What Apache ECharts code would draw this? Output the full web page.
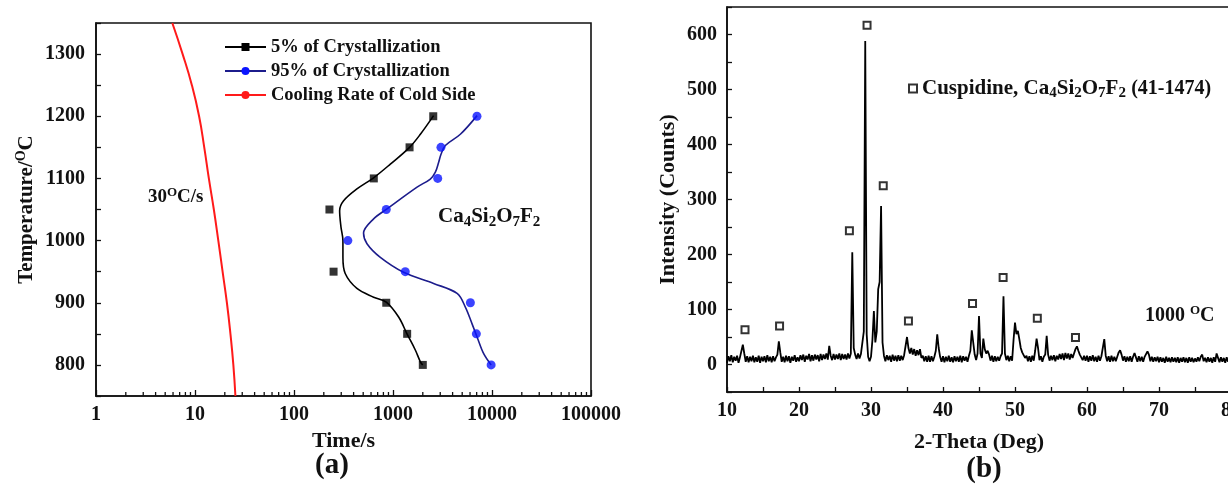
<!DOCTYPE html>
<html>
<head>
<meta charset="utf-8">
<script src="https://cdn.jsdelivr.net/npm/echarts@6/dist/echarts.min.js"></script>
<style>
html,body{margin:0;padding:0;background:#fff;}
#main{width:1228px;height:487px;}
</style>
</head>
<body>
<div id="main"></div>
<script>
// ---------- Panel (a): CCT data ----------
const crys5Time  = [2550, 1470, 640, 228, 251, 855, 1390, 2000];
const crys5Temp  = [1200, 1150, 1100, 1050, 950, 900, 850, 800];
const crys95Time = [7050, 3050, 2830, 855, 350, 1330, 6050, 6950, 9800];
const crys95Temp = [1200, 1150, 1100, 1050, 1000, 950, 900, 850, 800];
// fitted curves
const fit5Time  = [2570, 1890, 1470, 940, 637, 432, 317, 289, 298, 312, 312, 329, 432, 637, 855, 1140, 1385, 1680, 1890, 1995];
const fit5Temp  = [1201, 1171, 1150, 1123, 1101, 1083, 1064, 1048, 1022, 1000, 973, 947, 923, 909, 901, 877, 850, 824, 805, 800];
const fit95Time = [7066, 4790, 3380, 3055, 2893, 2679, 2383, 1750, 870, 637, 504, 546, 745, 1280, 2570, 4440, 5380, 6290, 7066, 8240, 9800];
const fit95Temp = [1201, 1171, 1153, 1139, 1126, 1110, 1099, 1086, 1051, 1035, 1012, 995, 973, 949, 931, 915, 893, 866, 845, 818, 800];
const coolTime = [5.9, 7.5, 9.3, 11.0, 12.4, 13.8, 15.5, 17.2, 19, 21, 22.8, 24.4, 25.6];
const coolTemp = [1350, 1300, 1250, 1200, 1150, 1100, 1050, 1000, 950, 900, 850, 800, 750];
const logMinorTicks = [2,3,4,5,6,7,8,9,20,30,40,50,60,70,80,90,200,300,400,500,600,700,800,900,
  2000,3000,4000,5000,6000,7000,8000,9000,20000,30000,40000,50000,60000,70000,80000,90000];
const xLabelsA = ['1','10','100','1000','10000','100000'];

// ---------- Panel (b): XRD pattern ----------
const scanStart = 10, scanStep = 0.2;
const xrdCounts = [
  3,15,6,17,4,14,7,16,3,13,          // 10.0-11.8
  14,36,20,5,15,4,14,6,16,4,         // 12.0-13.8
  13,5,16,3,14,6,15,4,17,6,          // 14.0-15.8
  14,4,15,6,13,18,42,22,5,14,        // 16.0-17.8
  4,16,6,15,3,14,7,17,5,13,          // 18.0-19.8
  6,17,8,18,5,16,9,19,6,17,          // 20.0-21.8
  7,18,9,17,6,19,8,18,10,20,         // 22.0-23.8
  9,34,16,8,19,9,18,10,20,8,         // 24.0-25.8
  19,10,18,9,20,11,20,204,30,18,     // 26.0-27.8
  10,20,11,19,22,60,588,55,14,6,     // 28.0-29.8
  14,45,97,40,60,137,150,288,40,16,  // 30.0-31.8
  6,17,8,16,5,18,7,16,6,17,          // 32.0-33.8
  7,16,8,17,20,50,30,20,30,18,       // 34.0-35.8
  28,16,26,17,28,12,16,6,15,5,       // 36.0-37.8
  16,5,15,6,14,25,55,30,14,5,        // 38.0-39.8
  15,4,14,6,16,5,13,4,15,6,          // 40.0-41.8
  14,5,16,4,15,7,14,5,16,25,         // 42.0-43.8
  62,40,18,8,20,88,20,12,47,28,      // 44.0-45.8
  20,25,18,7,16,5,15,6,14,7,         // 46.0-47.8
  15,20,124,20,8,16,6,15,7,45,       // 48.0-49.8
  76,55,61,46,30,22,24,12,16,6,      // 50.0-51.8
  15,5,16,7,25,47,30,8,15,5,         // 52.0-53.8
  14,18,52,18,7,16,8,17,6,16,        // 54.0-55.8
  9,19,10,20,8,21,11,20,9,19,        // 56.0-57.8
  12,20,28,33,25,18,20,8,16,7,       // 58.0-59.8
  16,5,15,7,17,6,14,5,16,7,          // 60.0-61.8
  15,18,46,16,6,15,5,16,6,14,        // 62.0-63.8
  6,14,22,26,18,7,15,5,14,6,         // 64.0-65.8
  15,5,14,21,13,5,15,6,14,5,         // 66.0-67.8
  14,16,24,18,6,14,5,13,6,14,        // 68.0-69.8
  4,13,5,12,3,14,5,12,4,13,          // 70.0-71.8
  5,12,4,13,3,12,5,13,4,12,          // 72.0-73.8
  3,13,5,12,4,11,5,13,6,14,          // 74.0-75.8
  18,6,12,4,13,5,12,3,13,5,          // 76.0-77.8
  20,12,4,13,5,12,3,13,5,12,         // 78.0-79.8
  6                                  // 80.0
];
const cuspAngle  = [12.5, 17.3, 27.0, 29.45, 31.7, 35.2, 44.1, 48.35, 53.1, 58.4];
const cuspCounts = [63, 70, 243, 617, 325, 79, 111, 158, 84, 49];

const FONT = '"Liberation Serif", "Times New Roman", serif';
const INK = '#111';

const xrdData = xrdCounts.map((c, i) => [+(scanStart + i * scanStep).toFixed(1), c]);
const pairs = (xs, ys) => xs.map((x, i) => [x, ys[i]]);

const chart = echarts.init(document.getElementById('main'), null, {renderer: 'canvas'});

const baseAxis = {
  axisLine: {show: true, onZero: false, lineStyle: {color: INK, width: 1.6}},
  axisTick: {show: true, inside: true, length: 5, lineStyle: {color: INK, width: 1.3}},
  splitLine: {show: false},
  axisLabel: {color: INK, fontFamily: FONT, fontWeight: 'bold', fontSize: 20},
  nameTextStyle: {color: INK, fontFamily: FONT, fontWeight: 'bold', fontSize: 22}
};

const option = {
  animation: false,
  backgroundColor: '#fff',
  grid: [
    {left: 96, top: 23, width: 495, height: 373, show: true, borderColor: INK, borderWidth: 1.6,
     backgroundColor: 'transparent', outerBoundsMode: 'none', containLabel: false},
    {left: 727, top: 7, width: 504, height: 385, show: true, borderColor: INK, borderWidth: 1.6,
     backgroundColor: 'transparent', outerBoundsMode: 'none', containLabel: false}
  ],
  xAxis: [
    Object.assign({}, baseAxis, {
      gridIndex: 0, type: 'log', logBase: 10, min: 1, max: 100000,
      axisTick: {show: true, inside: true, length: 6, lineStyle: {color: INK, width: 1.3}},
      axisLabel: Object.assign({}, baseAxis.axisLabel, {margin: 9,
        formatter: v => { const k = Math.round(Math.log10(v)); return xLabelsA[k] !== undefined ? xLabelsA[k] : ''; }}),
      name: 'Time/s', nameLocation: 'middle', nameGap: 34
    }),
    Object.assign({}, baseAxis, {
      gridIndex: 1, type: 'value', min: 10, max: 80, interval: 5,
      axisLabel: Object.assign({}, baseAxis.axisLabel, {margin: 9,
        formatter: v => (Math.round(v) % 10 === 0 ? String(Math.round(v)) : '')}),
      name: '2-Theta (Deg)', nameLocation: 'middle', nameGap: 39
    })
  ],
  yAxis: [
    Object.assign({}, baseAxis, {
      gridIndex: 0, type: 'value', min: 750, max: 1350, interval: 50,
      axisLabel: Object.assign({}, baseAxis.axisLabel, {margin: 11,
        formatter: v => (v % 100 === 0 ? String(v) : '')}),
      name: 'Temperature/{sup|O}C', nameLocation: 'middle', nameGap: 57, nameRotate: 90,
      nameTextStyle: Object.assign({}, baseAxis.nameTextStyle, {fontSize: 21,
        rich: {sup: {fontFamily: FONT, fontWeight: 'bold', fontSize: 14, color: INK, padding: [0, 0, 11, 0]}}
      })
    }),
    Object.assign({}, baseAxis, {
      gridIndex: 1, type: 'value', min: -50, max: 650, interval: 50,
      axisLabel: Object.assign({}, baseAxis.axisLabel, {margin: 10,
        formatter: v => (v % 100 === 0 ? String(v) : '')}),
      name: 'Intensity (Counts)', nameLocation: 'middle', nameGap: 48, nameRotate: 90
    })
  ],
  legend: [
    {
      data: ['5% of Crystallization', '95% of Crystallization', 'Cooling Rate of Cold Side'],
      orient: 'vertical', left: 224, top: 37, padding: 0, itemWidth: 41, itemHeight: 10, itemGap: 4,
      textStyle: {color: INK, fontFamily: FONT, fontWeight: 'bold', fontSize: 18.5, lineHeight: 20},
      selectedMode: false
    },
    {
      data: ['Cuspidine'],
      left: 908, top: 78, padding: 0, itemWidth: 8, itemHeight: 8,
      formatter: () => 'Cuspidine, Ca{sub|4}Si{sub|2}O{sub|7}F{sub|2} {n|(41-1474)}',
      textStyle: {color: INK, fontFamily: FONT, fontWeight: 'bold', fontSize: 21,
        rich: {
          sub: {fontFamily: FONT, fontWeight: 'bold', fontSize: 15, color: INK, padding: [10, 0, 0, 0]},
          n: {fontFamily: FONT, fontWeight: 'bold', fontSize: 20, color: INK}
        }},
      selectedMode: false
    }
  ],
  graphic: [
    {type: 'text', left: 148, top: 186, z: 10, style: {
      text: '30{sup|O}C/s', fill: INK, font: 'bold 19px ' + FONT,
      rich: {sup: {fontFamily: FONT, fontWeight: 'bold', fontSize: 13, fill: INK, padding: [0, 0, 10, 0]}}}},
    {type: 'text', left: 438, top: 206, z: 10, style: {
      text: 'Ca{sub|4}Si{sub|2}O{sub|7}F{sub|2}', fill: INK, font: 'bold 21px ' + FONT,
      rich: {sub: {fontFamily: FONT, fontWeight: 'bold', fontSize: 15, fill: INK, padding: [11, 0, 0, 0]}}}},
    {type: 'text', left: 1145, top: 304, z: 10, style: {
      text: '1000 {sup|O}C', fill: INK, font: 'bold 20px ' + FONT,
      rich: {sup: {fontFamily: FONT, fontWeight: 'bold', fontSize: 13, fill: INK, padding: [0, 0, 10, 0]}}}},
    {type: 'text', x: 332, y: 466, z: 10, style: {
      text: '(a)', fill: INK, font: 'bold 29px ' + FONT, align: 'center', verticalAlign: 'middle'}},
    {type: 'text', x: 984, y: 470, z: 10, style: {
      text: '(b)', fill: INK, font: 'bold 29px ' + FONT, align: 'center', verticalAlign: 'middle'}}
  ],
  series: [
    {
      name: '5% of Crystallization', type: 'line', xAxisIndex: 0, yAxisIndex: 0,
      data: pairs(fit5Time, fit5Temp), smooth: 0.35, showSymbol: false, symbol: 'rect', symbolSize: 8,
      lineStyle: {color: '#000', width: 1.6}, itemStyle: {color: '#000'}, z: 3
    },
    {
      name: '5% of Crystallization', type: 'scatter', xAxisIndex: 0, yAxisIndex: 0,
      data: pairs(crys5Time, crys5Temp), symbol: 'rect', symbolSize: 8,
      itemStyle: {color: '#000'}, z: 4
    },
    {
      name: '95% of Crystallization', type: 'line', xAxisIndex: 0, yAxisIndex: 0,
      data: pairs(fit95Time, fit95Temp), smooth: 0.35, showSymbol: false, symbol: 'circle', symbolSize: 9,
      lineStyle: {color: '#1c1c8c', width: 1.6}, itemStyle: {color: '#0a14ff'}, z: 3
    },
    {
      name: '95% of Crystallization', type: 'scatter', xAxisIndex: 0, yAxisIndex: 0,
      data: pairs(crys95Time, crys95Temp), symbol: 'circle', symbolSize: 9,
      itemStyle: {color: '#0a14ff'}, z: 5
    },
    {
      name: 'Cooling Rate of Cold Side', type: 'line', xAxisIndex: 0, yAxisIndex: 0,
      data: pairs(coolTime, coolTemp), smooth: 0.5, showSymbol: false, symbol: 'circle', symbolSize: 3,
      lineStyle: {color: '#ff1a1a', width: 2}, itemStyle: {color: '#ff1a1a'}, z: 3
    },
    {
      type: 'custom', xAxisIndex: 0, yAxisIndex: 0, silent: true, z: 6,
      data: logMinorTicks.map(v => [v, 750]),
      renderItem: (params, api) => {
        const p = api.coord([api.value(0), 750]);
        return {type: 'line', shape: {x1: p[0], y1: p[1], x2: p[0], y2: p[1] - 4},
          style: {stroke: INK, lineWidth: 1.3}};
      }
    },
    {
      name: 'XRD', type: 'line', xAxisIndex: 1, yAxisIndex: 1,
      data: xrdData, showSymbol: false, symbol: 'none',
      lineStyle: {color: '#000', width: 1.8}, z: 3
    },
    {
      name: 'Cuspidine', type: 'scatter', xAxisIndex: 1, yAxisIndex: 1,
      data: pairs(cuspAngle, cuspCounts), symbol: 'emptyRect', symbolSize: 7,
      itemStyle: {color: '#000', borderWidth: 1.5}, z: 4
    }
  ]
};
chart.setOption(option);
</script>
</body>
</html>
